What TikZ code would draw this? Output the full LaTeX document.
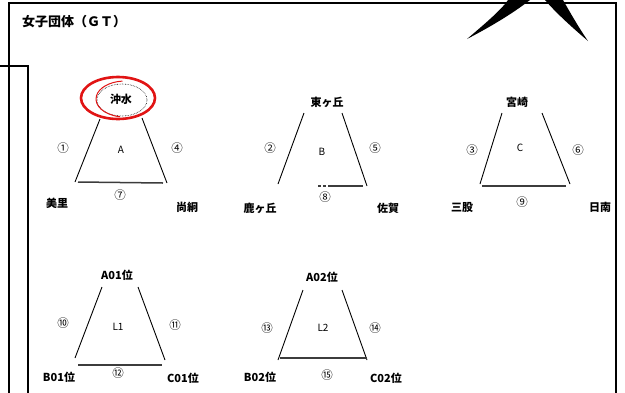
\documentclass[tikz,border=0pt]{standalone}
\usepackage{fontspec}
\setmainfont{Noto Sans CJK JP}
\usetikzlibrary{positioning}
\definecolor{markred}{RGB}{225,20,20}
\definecolor{linegray}{RGB}{60,60,60}

\begin{document}
\begin{tikzpicture}[x=1pt, y=-1pt,
    school/.style={font=\fontsize{11}{13}\selectfont\bfseries, inner sep=0pt},
    scoretxt/.style={font=\fontsize{11.5}{13}\selectfont, inner sep=0pt},
    grouplbl/.style={font=\fontsize{10}{12}\selectfont, inner sep=0pt},
    sideedge/.style={line width=0.9pt},
    baseedge/.style={line width=1.5pt, linegray}]
    \useasboundingbox (0,0) rectangle (625,392);

    % Rahmen
    \draw[line width=1.2pt] (9,396) -- (9,3) -- (616,3) -- (616,396);
    \draw[line width=1.2pt] (0,66) -- (28,66) -- (28,396);
    \node[font=\fontsize{13}{15}\selectfont\bfseries, anchor=west, inner sep=0pt] (title) at (22,22) {女子団体（ＧＴ）};

    % schwarze Striche oben rechts
    \fill (467,39) .. controls (487,22) and (502,9) .. (508,0) -- (530,0) .. controls (512,14) and (490,27) .. (467,39);
    \fill (545,0) -- (563,0) .. controls (571,14) and (579,28) .. (588,41) .. controls (574,29) and (557,14) .. (545,0);

    % Gruppe A
    \node[school] (a1) at (121,99) {沖水};
    \node[school] (a2) at (57,203) {美里};
    \node[school] (a3) at (187,207) {尚絅};
    \coordinate (aTL) at (100,119);
    \coordinate (aTR) at (142,118);
    \coordinate (aBL) at (75,182);
    \coordinate (aBR) at (167,183);
    \draw[sideedge] (aTL) -- (aBL);
    \draw[sideedge] (aTR) -- (aBR);
    \draw[baseedge] ([xshift=3pt]aBL) -- ([xshift=-4pt]aBR);
    \node[grouplbl] (aName) at (121,150) {A};
    \node[scoretxt] (aL) at (63,148) {①};
    \node[scoretxt] (aR) at (177,148) {④};
    \node[scoretxt] (aB) at (120,195) {⑦};
    % roter Kreis um den Sieger
    \draw[densely dotted, line width=0.6pt] (122,100) ellipse (25 and 16);
    \draw[markred, line width=1pt] (125,99) ++(100:29 and 18) arc (100:265:29 and 18);
    \draw[markred, line width=2.6pt] (118,98) ellipse (37 and 21);

    % Gruppe B
    \node[school] (b1) at (327,102) {東ヶ丘};
    \node[school] (b2) at (260,208) {鹿ヶ丘};
    \node[school] (b3) at (388,208) {佐賀};
    \coordinate (bTL) at (304,113);
    \coordinate (bTR) at (342,113);
    \coordinate (bBL) at (278,184);
    \coordinate (bBR) at (367,186);
    \draw[sideedge] (bTL) -- (bBL);
    \draw[sideedge] (bTR) -- (bBR);
    \draw[baseedge, dash pattern=on 3pt off 2pt on 3pt off 2pt on 40pt] (318,186) -- ([xshift=-4pt]bBR);
    \node[grouplbl] (bName) at (322,152) {B};
    \node[scoretxt] (bL) at (270,148) {②};
    \node[scoretxt] (bR) at (375,148) {⑤};
    \node[scoretxt] (bB) at (325,197) {⑧};

    % Gruppe C
    \node[school] (c1) at (517,102) {宮崎};
    \node[school] (c2) at (462,207) {三股};
    \node[school] (c3) at (600,207) {日南};
    \coordinate (cTL) at (502,113);
    \coordinate (cTR) at (542,113);
    \coordinate (cBL) at (480,184);
    \coordinate (cBR) at (570,184);
    \draw[sideedge] (cTL) -- (cBL);
    \draw[sideedge] (cTR) -- (cBR);
    \draw[baseedge] ([xshift=2pt, yshift=-2pt]cBL) -- ([xshift=-4pt, yshift=-2pt]cBR);
    \node[grouplbl] (cName) at (520,148) {C};
    \node[scoretxt] (cL) at (472,150) {③};
    \node[scoretxt] (cR) at (578,150) {⑥};
    \node[scoretxt] (cB) at (522,202) {⑨};

    % Liga 1
    \node[school] (l11) at (117,275) {A01位};
    \node[school] (l12) at (59,377) {B01位};
    \node[school] (l13) at (183,378) {C01位};
    \coordinate (dTL) at (102,287);
    \coordinate (dTR) at (138,287);
    \coordinate (dBL) at (75,358);
    \coordinate (dBR) at (165,360);
    \draw[sideedge] (dTL) -- (dBL);
    \draw[sideedge] (dTR) -- (dBR);
    \draw[baseedge] (78,365) -- (162,365);
    \node[grouplbl] (dName) at (118,327) {L1};
    \node[scoretxt] (dL) at (63,323) {⑩};
    \node[scoretxt] (dR) at (175,325) {⑪};
    \node[scoretxt] (dB) at (118,373) {⑫};

    % Liga 2
    \node[school] (l21) at (322,277) {A02位};
    \node[school] (l22) at (260,377) {B02位};
    \node[school] (l23) at (386,378) {C02位};
    \coordinate (eTL) at (303,290);
    \coordinate (eTR) at (342,290);
    \coordinate (eBL) at (278,360);
    \coordinate (eBR) at (367,360);
    \draw[sideedge] (eTL) -- (eBL);
    \draw[sideedge] (eTR) -- (eBR);
    \draw[baseedge] ([xshift=2pt, yshift=2pt]eBL) -- ([yshift=2pt]eBR);
    \node[grouplbl] (eName) at (323,328) {L2};
    \node[scoretxt] (eL) at (267,328) {⑬};
    \node[scoretxt] (eR) at (375,328) {⑭};
    \node[scoretxt] (eB) at (327,375) {⑮};
\end{tikzpicture}
\end{document}
